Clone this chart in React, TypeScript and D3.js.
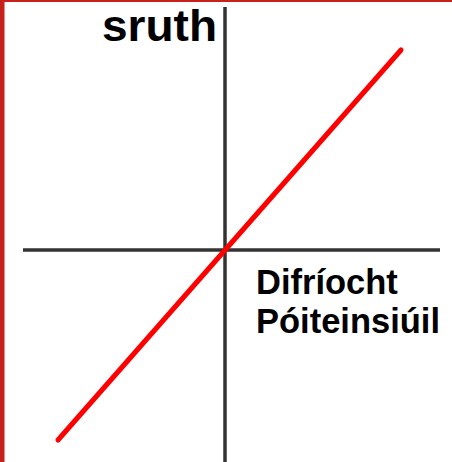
import React from "react";
import * as d3 from "d3";

const W = 452;
const H = 462;

// Axis extents (in data units)
const xAxisExtent = [-1.01, 1.075];
const yAxisExtent = [-1.06, 1.215];

// The straight line I = kV (through origin)
const lineX = [-0.835, 0.88];
const lineY = [-0.95, 1.0];

const yLabel = "sruth";
const xLabelLines = ["Difríocht", "Póiteinsiúil"];

export default function App() {
  const x = d3.scaleLinear().domain([-1, 1]).range([25, 425]);
  const y = d3.scaleLinear().domain([-1, 1]).range([450, 50]);

  const pts: [number, number][] = lineX.map((v, i) => [v, lineY[i]]);
  const line = d3
    .line<[number, number]>()
    .x((d) => x(d[0]))
    .y((d) => y(d[1]));

  const font = "Arial, 'Liberation Sans', sans-serif";

  return (
    <svg
      width={W}
      height={H}
      style={{ position: "absolute", left: 0, top: 0, background: "#fff" }}
    >
      <rect x={0} y={0} width={W} height={H} fill="#fff" />
      {/* x axis */}
      <line
        x1={x(xAxisExtent[0])}
        x2={x(xAxisExtent[1])}
        y1={y(0)}
        y2={y(0)}
        stroke="#333"
        strokeWidth={3.5}
      />
      {/* y axis */}
      <line
        x1={x(0)}
        x2={x(0)}
        y1={y(yAxisExtent[1])}
        y2={y(yAxisExtent[0])}
        stroke="#333"
        strokeWidth={3.5}
      />
      {/* red line */}
      <path
        d={line(pts) || ""}
        fill="none"
        stroke="#ff0000"
        strokeWidth={5}
        strokeLinecap="round"
      />
      <text
        x={102}
        y={41}
        fontFamily={font}
        fontWeight="bold"
        fontSize={45}
        textLength={115}
        lengthAdjust="spacingAndGlyphs"
        fill="#000"
      >
        {yLabel}
      </text>
      {xLabelLines.map((t, i) => (
        <text
          key={t}
          x={256}
          y={294 + i * 39}
          fontFamily={font}
          fontWeight="bold"
          fontSize={34.5}
          fill="#000"
        >
          {t}
        </text>
      ))}
      {/* red frame */}
      <rect x={0} y={0} width={4.5} height={H} fill="#c8201a" />
      <rect x={0} y={0} width={W} height={2} fill="#c8201a" />
    </svg>
  );
}
